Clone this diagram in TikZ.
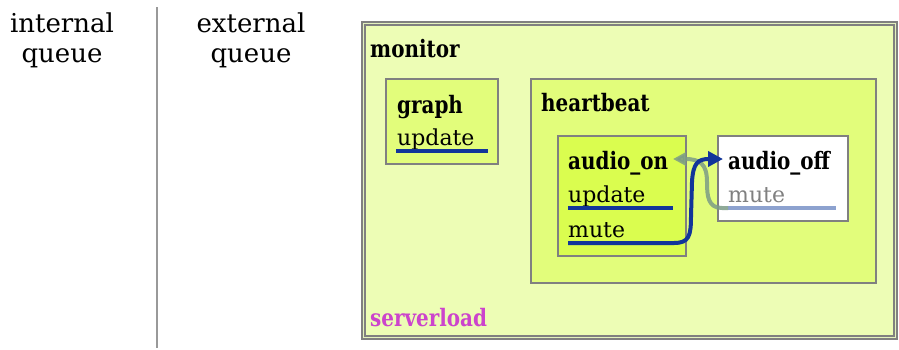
\documentclass[tikz,border=0pt]{standalone}
\usepackage{fontspec}
\setmainfont{DejaVu Serif}[BoldFeatures={FakeStretch=0.83}]
\usetikzlibrary{arrows.meta}
\definecolor{monfill}{HTML}{EDFDB5}
\definecolor{monline}{HTML}{E4F2BE}
\definecolor{hbfill}{HTML}{E2FD7B}
\definecolor{onfill}{HTML}{DAFD4F}
\definecolor{uline}{HTML}{12359A}
\definecolor{frame}{HTML}{808080}
\definecolor{lightuline}{HTML}{8DA2CF}
\definecolor{backarrow}{HTML}{7C9C86}
\definecolor{slabel}{HTML}{CC44CC}
\definecolor{seplin}{HTML}{999999}
\begin{document}
\begin{tikzpicture}[x=1pt,y=-1pt,
  box/.style={draw=frame, line width=2pt, inner sep=0pt, anchor=north west},
  lbl/.style={anchor=base west, inner sep=0pt, font=\fontsize{22}{26}\selectfont},
  ttl/.style={lbl, font=\fontsize{24}{26}\selectfont\bfseries},
  side/.style={anchor=base, inner sep=0pt, font=\fontsize{26}{30}\selectfont},
  underl/.style={draw=uline, line width=4pt},
  fwd/.style={draw=uline, line width=4pt, -{Triangle[length=15pt,width=15pt]}},
  back/.style={draw=backarrow, opacity=0.85, line width=4pt, -{Triangle[length=13pt,width=13pt]}}]
\useasboundingbox (0,0) rectangle (899,349);
% side labels
\node[side] (internal) at (62,32) {internal};
\node[side] (iqueue) at (62,62) {queue};
\node[side] (external) at (251,32) {external};
\node[side] (equeue) at (251,62) {queue};
\coordinate (sepTop) at (157,7);
\coordinate (sepBot) at (157,348);
\draw[seplin, line width=1.5pt] (sepTop) -- (sepBot);
% boxes
\node[box, draw=frame, line width=1.6pt, double=monline, double distance=1.6pt, fill=monfill,
      minimum width=532pt, minimum height=314pt] (monitor) at (362.5,22.5) {};
\node[box, fill=hbfill, minimum width=112pt, minimum height=85pt] (graph) at (385,78) {};
\node[box, fill=hbfill, minimum width=345pt, minimum height=204pt] (heartbeat) at (530,78) {};
\node[box, fill=onfill, minimum width=128pt, minimum height=120pt] (audioon) at (557,135) {};
\node[box, fill=white, minimum width=130pt, minimum height=85pt] (audiooff) at (717,135) {};
% texts
\node[ttl] (tmonitor) at (370,57) {monitor};
\node[ttl] (tgraph) at (397,113) {graph};
\node[lbl] (gupdate) at (397,145) {update};
\node[ttl] (theart) at (541,111) {heartbeat};
\node[ttl] (ton) at (568,169) {audio\_on};
\node[lbl] (onupdate) at (568,202) {update};
\node[lbl] (onmute) at (568,237) {mute};
\node[ttl] (toff) at (728,169) {audio\_off};
\node[lbl, text=frame] (offmute) at (728,202) {mute};
\node[ttl, text=slabel] (tserver) at (370,326) {serverload};
% underlines
\coordinate (gu1) at (396,150.5);
\coordinate (gu2) at (488,150.5);
\draw[underl] (gu1) -- (gu2);
\coordinate (ou1) at (568,208);
\coordinate (ou2) at (673,208);
\draw[underl] (ou1) -- (ou2);
\coordinate (fu1) at (728,208);
\coordinate (fu2) at (836,208);
\draw[draw=lightuline, line width=4pt] (fu1) -- (fu2);
% transitions
\coordinate (mu1) at (568,243);
\coordinate (backEnd) at (673,159);
\coordinate (fwdEnd) at (723,159);
\draw[back] (fu1) -- (722,208) .. controls (708,208) and (707,196) .. (707,182)
   .. controls (707,164) and (700,159) .. (backEnd);
\draw[fwd] (mu1) -- (674,243) .. controls (689,243) and (691,236) .. (691,216)
   -- (692,182) .. controls (693,163) and (698,159) .. (fwdEnd);
\end{tikzpicture}
\end{document}
